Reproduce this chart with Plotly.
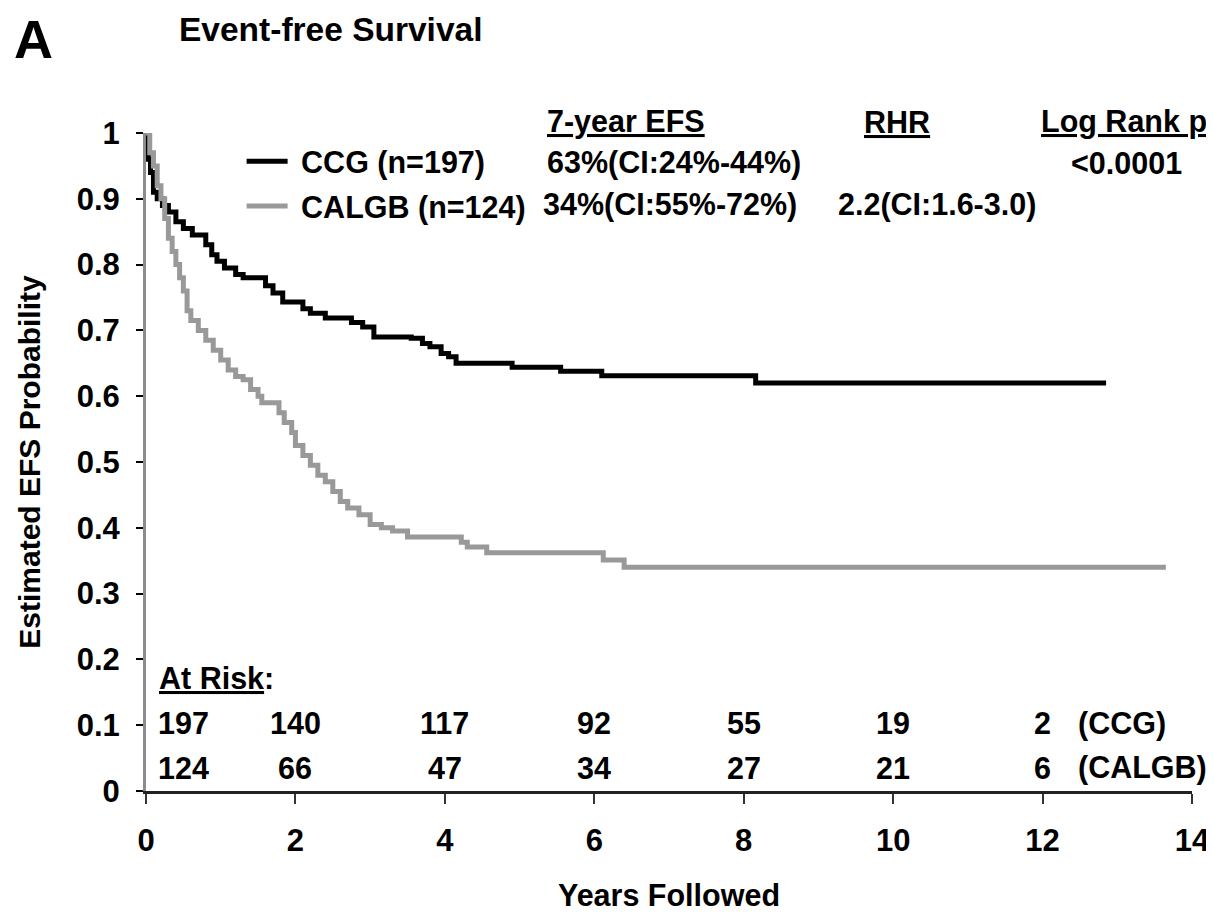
# Kaplan-Meier EFS plot, CCG vs CALGB
import plotly.graph_objects as go

# step curves (years, EFS probability)
years_ccg = [0, 0.03, 0.06, 0.1, 0.15, 0.22, 0.3, 0.4, 0.5, 0.62, 0.8, 0.88, 0.95,
             1.05, 1.2, 1.3, 1.6, 1.7, 1.83, 2.1, 2.2, 2.4, 2.75, 2.9, 3.05, 3.55,
             3.7, 3.8, 3.95, 4.05, 4.15, 4.9, 5.55, 6.1, 8.16, 12.85]
efs_ccg = [1.0, 0.96, 0.94, 0.91, 0.90, 0.89, 0.88, 0.865, 0.855, 0.845, 0.83, 0.815, 0.805,
           0.795, 0.785, 0.78, 0.768, 0.757, 0.743, 0.733, 0.726, 0.719, 0.712, 0.705, 0.69, 0.688,
           0.68, 0.675, 0.665, 0.66, 0.65, 0.644, 0.638, 0.631, 0.62, 0.62]

years_calgb = [0, 0.05, 0.1, 0.15, 0.2, 0.25, 0.3, 0.35, 0.4, 0.45, 0.5, 0.55, 0.6, 0.7,
               0.8, 0.9, 1.0, 1.1, 1.2, 1.3, 1.4, 1.5, 1.55, 1.78, 1.85, 1.95, 2.0, 2.1,
               2.2, 2.3, 2.4, 2.5, 2.6, 2.7, 2.85, 3.0, 3.15, 3.3, 3.5, 4.22, 4.3, 4.56,
               6.12, 6.4, 13.65]
efs_calgb = [1.0, 0.97, 0.95, 0.92, 0.90, 0.87, 0.84, 0.82, 0.80, 0.78, 0.76, 0.73, 0.715, 0.70,
             0.685, 0.67, 0.655, 0.64, 0.63, 0.625, 0.61, 0.60, 0.59, 0.575, 0.56, 0.545, 0.525, 0.51,
             0.495, 0.48, 0.47, 0.455, 0.44, 0.43, 0.42, 0.405, 0.40, 0.395, 0.386, 0.378, 0.371, 0.362,
             0.351, 0.34, 0.34]

# numbers at risk
risk_years = [0, 2, 4, 6, 8, 10, 12]
risk_ccg = [197, 140, 117, 92, 55, 19, 2]
risk_calgb = [124, 66, 47, 34, 27, 21, 6]

FONT = "Liberation Sans, Arial, Helvetica, sans-serif"
GRAY = "#999999"
TXT = 30.5

fig = go.Figure()

fig.add_trace(go.Scatter(
    x=years_ccg, y=efs_ccg, mode="lines", name="\u00a0CCG (n=197)",
    line=dict(shape="hv", color="black", width=5),
    legendgroup="ccg", cliponaxis=False,
))
fig.add_trace(go.Scatter(
    x=years_calgb, y=efs_calgb, mode="lines", name="\u00a0CALGB (n=124)",
    line=dict(shape="hv", color=GRAY, width=5),
    legendgroup="calgb", cliponaxis=False,
))


def txt(text, x, y, xref="paper", yref="paper", xanchor="center", size=TXT, xshift=0):
    fig.add_annotation(text=text, x=x, y=y, xref=xref, yref=yref,
                       xanchor=xanchor, yanchor="middle", showarrow=False, xshift=xshift,
                       font=dict(family=FONT, size=size, color="black", weight="bold"))


# panel label + title
txt("A", -0.108, 1.143, size=54)
txt("Event-free Survival", 0.03, 1.158, xanchor="left", size=33.5)

# stats table
txt("<u>7-year EFS</u>", 0.381, 1.017, xanchor="left")
txt("<u>RHR</u>", 0.718, 1.017)
txt("<u>Log Rank p</u>", 0.935, 1.017)
txt("63%(CI:24%-44%)", 0.381, 0.9545, xanchor="left")
txt("34%(CI:55%-72%)", 0.378, 0.8907, xanchor="left")
txt("&lt;0.0001", 0.937, 0.9545)
txt("2.2(CI:1.6-3.0)", 0.756, 0.8907)

# at risk table
txt("<u>At Risk</u>:", 0.0105, 0.171, xref="paper", yref="y", xanchor="left")
for i, yr in enumerate(risk_years):
    if i == 0:
        txt(str(risk_ccg[i]), yr, 0.103, xref="x", yref="y", xanchor="left", xshift=10)
        txt(str(risk_calgb[i]), yr, 0.035, xref="x", yref="y", xanchor="left", xshift=10)
    else:
        txt(str(risk_ccg[i]), yr, 0.103, xref="x", yref="y")
        txt(str(risk_calgb[i]), yr, 0.035, xref="x", yref="y")
txt("(CCG)", 12.45, 0.103, xref="x", yref="y", xanchor="left")
txt("(CALGB)", 12.45, 0.035, xref="x", yref="y", xanchor="left")

fig.update_layout(
    width=1214, height=912,
    margin=dict(l=138, r=26, t=125, b=128),
    paper_bgcolor="white", plot_bgcolor="white",
    font=dict(family=FONT, color="black"),
    showlegend=True,
    legend=dict(x=0.0914, y=0.997, xanchor="left", yanchor="top",
                bgcolor="rgba(0,0,0,0)", traceorder="grouped", tracegroupgap=2,
                itemwidth=41,
                font=dict(family=FONT, size=TXT, color="black", weight="bold")),
)

fig.update_xaxes(range=[0, 14], tickvals=list(range(0, 15, 2)),
                 showgrid=False, zeroline=False,
                 showline=True, linecolor="#222222", linewidth=3,
                 ticks="outside", ticklen=10, tickwidth=2, tickcolor="#333333",
                 ticklabelstandoff=10,
                 tickfont=dict(family=FONT, size=31, color="black", weight="bold"),
                 title=dict(text="Years Followed", standoff=28,
                            font=dict(family=FONT, size=30.5, color="black", weight="bold")))

fig.update_yaxes(range=[0, 1], tickvals=[i / 10 for i in range(11)],
                 ticktext=["0"] + [f"0.{i}" for i in range(1, 10)] + ["1"],
                 showgrid=False, zeroline=False,
                 showline=True, linecolor="#8c8c8c", linewidth=3,
                 ticks="outside", ticklen=7, tickwidth=2, tickcolor="black",
                 ticklabelstandoff=10,
                 tickfont=dict(family=FONT, size=31, color="black", weight="bold"),
                 title=dict(text="Estimated EFS Probability", standoff=28,
                            font=dict(family=FONT, size=30, color="black", weight="bold")))

fig.write_html("out.html")
